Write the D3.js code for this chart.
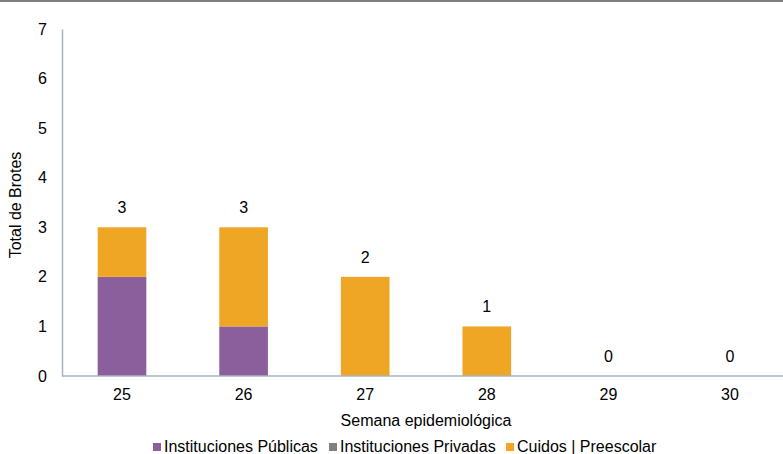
<!DOCTYPE html>
<html>
<head>
<meta charset="utf-8">
<script src="https://cdn.jsdelivr.net/npm/d3@7"></script>
<style>
  body { margin: 0; background: #fff; }
  svg { display: block; font-family: "Liberation Sans", Arial, sans-serif; }
</style>
</head>
<body>
<svg id="chart" width="783" height="454"></svg>
<script>
const weeks = ["25", "26", "27", "28", "29", "30"];
const publicas = [2, 1, 0, 0, 0, 0];
const privadas = [0, 0, 0, 0, 0, 0];
const cuidos = [1, 2, 2, 1, 0, 0];
const yTicks = [0, 1, 2, 3, 4, 5, 6, 7];
const seriesNames = ["Instituciones Públicas", "Instituciones Privadas", "Cuidos | Preescolar"];
const seriesColors = ["#8b5f9c", "#808080", "#f0a625"];

const svg = d3.select("#chart");
const W = 783, H = 454;
const FONT = "Liberation Sans, Arial, sans-serif";

svg.append("rect").attr("x", 0).attr("y", 0).attr("width", W).attr("height", 2).attr("fill", "#7f7f7f");

const x = d3.scaleBand().domain(weeks).range([61.2, 790.8]).paddingInner(0.6).paddingOuter(0.3);
const y = d3.scaleLinear().domain([0, 7]).range([376, 29]);

const rows = weeks.map((w, i) => ({ week: w, p0: publicas[i], p1: privadas[i], p2: cuidos[i] }));
const stack = d3.stack().keys(["p0", "p1", "p2"])(rows);

stack.forEach((layer, li) => {
  svg.append("g").selectAll("rect").data(layer).join("rect")
    .attr("x", d => x(d.data.week))
    .attr("width", x.bandwidth())
    .attr("y", d => y(d[1]))
    .attr("height", d => y(d[0]) - y(d[1]))
    .attr("fill", seriesColors[li]);
});

// axes
const yAxis = svg.append("g").attr("transform", "translate(62,0)")
  .call(d3.axisLeft(y).tickValues(yTicks).tickFormat(d3.format("d")).tickSize(0).tickPadding(15));
yAxis.select(".domain").attr("stroke", "#a9b3bb").attr("stroke-width", 1.5);
yAxis.selectAll("text").attr("font-size", 16).attr("fill", "#000").attr("font-family", FONT);

const xAxis = svg.append("g").attr("transform", "translate(0,376)")
  .call(d3.axisBottom(x).tickSize(0).tickPadding(13));
xAxis.select(".domain").attr("d", "M62,0H790").attr("stroke", "#a9b3bb").attr("stroke-width", 1.5);
xAxis.selectAll("text").attr("font-size", 16).attr("fill", "#000").attr("font-family", FONT);

// total labels
svg.append("g").selectAll("text").data(rows).join("text")
  .attr("x", d => x(d.week) + x.bandwidth() / 2)
  .attr("y", d => y(d.p0 + d.p1 + d.p2) - 14)
  .attr("text-anchor", "middle")
  .attr("font-size", 16)
  .text(d => d.p0 + d.p1 + d.p2);

// axis titles
svg.append("text").attr("transform", "translate(21,205) rotate(-90)")
  .attr("text-anchor", "middle").attr("font-size", 16).text("Total de Brotes");
svg.append("text").attr("x", 426).attr("y", 426)
  .attr("text-anchor", "middle").attr("font-size", 16).text("Semana epidemiológica");

// legend
const legendX = [153, 329, 506];
const lg = svg.append("g");
seriesNames.forEach((n, i) => {
  lg.append("rect").attr("x", legendX[i]).attr("y", 443).attr("width", 8).attr("height", 8).attr("fill", seriesColors[i]);
  lg.append("text").attr("x", legendX[i] + 11).attr("y", 451.5).attr("font-size", 16).text(n);
});
</script>
</body>
</html>
